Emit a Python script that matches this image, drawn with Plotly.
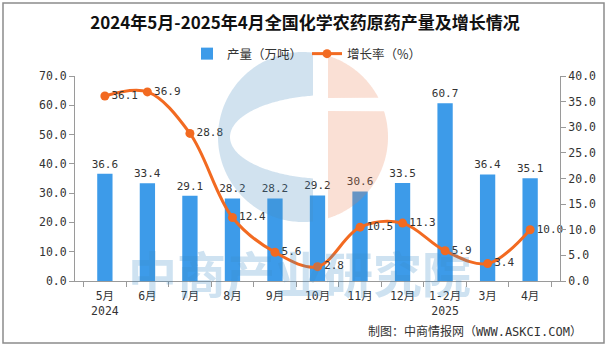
import numpy as np
import plotly.graph_objects as go

categories = ["5月<br>2024", "6月", "7月", "8月", "9月", "10月", "11月", "12月", "1-2月<br>2025", "3月", "4月"]
output_wt = [36.6, 33.4, 29.1, 28.2, 28.2, 29.2, 30.6, 33.5, 60.7, 36.4, 35.1]
growth_pct = [36.1, 36.9, 28.8, 12.4, 5.6, 2.8, 10.5, 11.3, 5.9, 3.4, 10.0]
left_ticks = [0, 10, 20, 30, 40, 50, 60, 70]
right_ticks = [0, 5, 10, 15, 20, 25, 30, 35, 40]

FONT = "Noto Sans CJK SC"
NUMFONT = "DejaVu Sans Mono, Noto Sans CJK SC"
W, H = 608, 347
L, R, T, B = 75, 48, 76, 66
PW, PH = W - L - R, H - T - B


def px(x):
    return (x - L) / PW


def py(y):
    return (H - B - y) / PH


def poly_path(pts):
    return "M " + " L ".join(f"{px(x):.5f},{py(y):.5f}" for x, y in pts) + " Z"


fig = go.Figure()
fig.add_trace(go.Bar(
    x=categories, y=output_wt, name="产量（万吨）",
    marker=dict(color="#3D9BE9", line=dict(width=0)),
    width=0.36,
    text=[f"{v:.1f}" for v in output_wt], textposition="outside",
    constraintext="none",
    textfont=dict(family=NUMFONT, size=11, color="#333333"),
    cliponaxis=False,
))
fig.add_trace(go.Scatter(
    x=categories, y=growth_pct, name="增长率（%）", yaxis="y2",
    mode="lines+markers+text",
    line=dict(color="#F26A21", width=3, shape="spline", smoothing=1.0),
    marker=dict(color="#F26A21", size=9),
    text=[f"{v:.1f}" for v in growth_pct], textposition="middle right",
    textfont=dict(family=NUMFONT, size=11, color="#333333"),
    cliponaxis=False,
))

# watermark logo (decoration)
cx, cy, r = 303, 137, 85
shapes = []
xg = 313
ex, ey, erx, ery = 330, 137, 100, 42
theta0 = np.arccos((xg - cx) / r)
arc_out = [(cx + r * np.cos(t), cy - r * np.sin(t)) for t in np.linspace(theta0, 2 * np.pi - theta0, 160)]
phi0 = np.arccos(np.clip((xg - ex) / erx, -1, 1))
arc_in = [(ex + erx * np.cos(t), ey - ery * np.sin(t)) for t in np.linspace(2 * np.pi - phi0, phi0, 160)]
shapes.append(dict(type="path", xref="paper", yref="paper", path=poly_path(arc_out + arc_in),
                   fillcolor="rgba(70,140,190,0.25)", line=dict(width=0), layer="above"))
xo = 328
th = np.linspace(-np.pi / 2, np.pi / 2, 240)
right = [(cx + r * np.cos(t), cy + r * np.sin(t)) for t in th]
upper = [p for p in right if p[0] >= xo and p[1] <= 98]
lower = [p for p in right if p[0] >= xo and p[1] >= 111]
up_pts = [(xo, upper[0][1])] + upper + [(xo, 98)]
lo_pts = [(xo, 111)] + lower + [(xo, lower[-1][1])]
for pts in (up_pts, lo_pts):
    shapes.append(dict(type="path", xref="paper", yref="paper", path=poly_path(pts),
                       fillcolor="rgba(235,125,80,0.24)", line=dict(width=0), layer="above"))
shapes.append(dict(type="rect", xref="paper", yref="paper",
                   x0=px(3), x1=px(604), y0=py(343), y1=py(3),
                   line=dict(color="#8C8C8C", width=1.5), fillcolor="rgba(0,0,0,0)", layer="below"))

fig.update_layout(
    width=W, height=H,
    margin=dict(l=L, r=R, t=T, b=B, autoexpand=False),
    paper_bgcolor="white", plot_bgcolor="white",
    font=dict(family=FONT, size=11, color="#333333"),
    title=dict(text="<b>2024年5月-2025年4月全国化学农药原药产量及增长情况</b>",
               x=px(305), xref="paper", xanchor="center",
               y=1 - 23 / H, yref="container", yanchor="middle",
               font=dict(family=FONT, size=17, color="#111111")),
    legend=dict(orientation="h", x=px(307), xanchor="center", xref="paper",
                y=py(54), yref="paper", yanchor="middle",
                font=dict(family=FONT, size=12.5, color="#333333"),
                bgcolor="rgba(0,0,0,0)"),
    showlegend=True,
    bargap=0.5,
    xaxis=dict(type="category", showline=True, linecolor="#9A9A9A", linewidth=1,
               ticks="outside", tickson="boundaries", ticklen=5, tickcolor="#9A9A9A",
               tickangle=0, ticklabelstandoff=4,
               tickfont=dict(family=NUMFONT, size=11.5, color="#333333"), showgrid=False),
    yaxis=dict(range=[0, 70], tickvals=left_ticks, tickformat=".1f",
               showline=True, linecolor="#9A9A9A", ticks="outside", ticklen=5, tickcolor="#9A9A9A",
               showgrid=False, zeroline=False, tickfont=dict(family=NUMFONT, size=11.5, color="#333333")),
    yaxis2=dict(range=[0, 40], tickvals=right_ticks, tickformat=".1f", overlaying="y", side="right",
                showline=True, linecolor="#9A9A9A", ticks="outside", ticklen=5, tickcolor="#9A9A9A",
                showgrid=False, zeroline=False, tickfont=dict(family=NUMFONT, size=11.5, color="#333333")),
    shapes=shapes,
    annotations=[
        dict(text="<b>中商产业研究院</b>", xref="paper", yref="paper", x=px(299), y=py(271),
             showarrow=False, font=dict(family=FONT, size=49, color="rgba(60,140,200,0.25)"),
             xanchor="center", yanchor="middle"),
        dict(text="制图：中商情报网（WWW.ASKCI.COM）", xref="paper", yref="paper",
             x=px(584), y=py(331), xanchor="right", yanchor="middle", showarrow=False,
             font=dict(family=NUMFONT, size=12, color="#333333")),
    ],
)

fig.write_html("out.html")
